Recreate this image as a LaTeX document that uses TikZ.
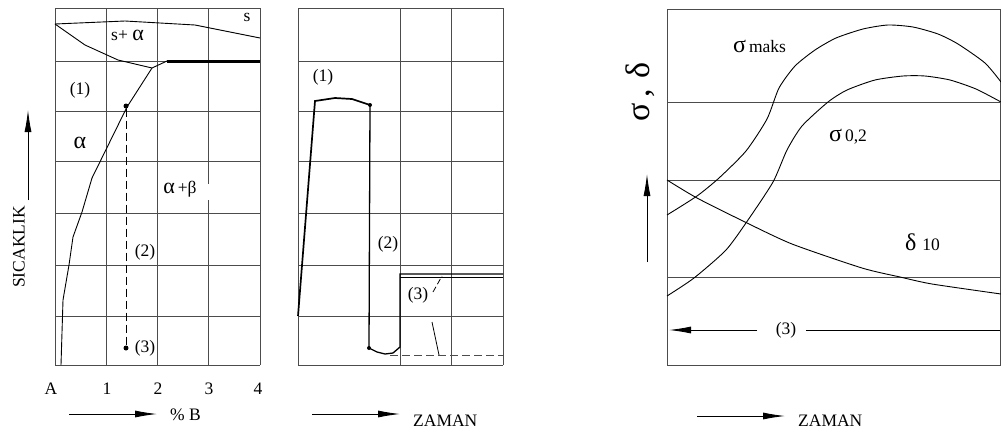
\documentclass[tikz,border=0pt]{standalone}
\usepackage{fontspec}
\setmainfont{Liberation Serif}
\usetikzlibrary{arrows.meta}
\begin{document}
\begin{tikzpicture}[x=1bp,y=-1bp,
  gridline/.style={line width=0.9bp, black!70},
  curve/.style={line width=0.9bp, black},
  heavy/.style={line width=1.7bp, black},
  dashline/.style={line width=0.9bp, black!70, dash pattern=on 8bp off 4bp},
  axarrow/.style={line width=0.9bp, black, -{Latex[length=22bp,width=7bp]}},
  lbl/.style={font=\fontsize{17.5bp}{20bp}\selectfont, inner sep=0pt},
  greek/.style={font=\fontsize{24bp}{26bp}\selectfont, inner sep=0pt},
  dot/.style={circle, fill=black, inner sep=0pt, minimum size=5bp}]
\useasboundingbox (0,0) rectangle (1001,430);

% ---------------- left chart ----------------
\foreach \x in {55,106,157,260} \draw[gridline] (\x,8) -- (\x,365);
\draw[gridline] (208,8) -- (208,184);
\draw[gridline] (208,200) -- (208,365);
\foreach \y in {8,61,111,161,213,265,316,365} \draw[gridline] (55,\y) -- (260,\y);
% liquidus / solidus / solvus
\draw[curve] (55,24) -- (125,21) -- (195,25) -- (260,38);
\draw[curve] (55,24) -- (85,45) -- (118,60) -- (152,68) -- (167,61);
\draw[line width=3bp] (167,61) -- (260,61);
\draw[curve] (152,68) -- (127,107) -- (92,178) -- (82,212) -- (73,237) -- (69,265) -- (63,300) -- (61,365);
\node[dot] (la) at (126,106) {};
\node[dot] (lb) at (126,348) {};
\draw[dashline, black] (la) -- (lb);
% labels
\node[lbl] (ls) at (247,17) {s};
\node[lbl, anchor=base west] (lsa) at (111,40) {s+ \fontsize{22bp}{22bp}\selectfont α};
\node[lbl] (l1) at (80,90) {(1)};
\node[greek] (lal) at (80,143) {α};
\node[lbl] (lab) at (180,189) {\fontsize{22bp}{22bp}\selectfont α\fontsize{17.5bp}{20bp}\selectfont\,+β};
\node[lbl] (l2) at (145,252) {(2)};
\node[lbl] (l3) at (145,348) {(3)};
\node[lbl] (tA) at (51,389) {A};
\node[lbl] (t1) at (107,389) {1};
\node[lbl] (t2) at (158,389) {2};
\node[lbl] (t3) at (209,389) {3};
\node[lbl] (t4) at (258,389) {4};
\node[lbl, anchor=base west] (pb) at (170,420) {\% B};
\coordinate (pbs) at (69,414);
\coordinate (pbe) at (157,414);
\draw[axarrow] (pbs) -- (pbe);
\node[lbl, rotate=90] (sic) at (19,247) {SICAKLIK};
\coordinate (sics) at (28,200);
\coordinate (sice) at (28,110);
\draw[axarrow] (sics) -- (sice);

% ---------------- middle chart ----------------
\foreach \x in {298,400,451,503} \draw[gridline] (\x,8) -- (\x,365);
\foreach \y in {8,61,111,161,213,265,316,365} \draw[gridline] (298,\y) -- (503,\y);
\node[dot, minimum size=4bp] (ma) at (370,105) {};
\node[dot, minimum size=4bp] (mb) at (369,348) {};
\draw[heavy] (298,316) -- (315,101) -- (335,98) -- (352,99) -- (ma.center);
\draw[line width=1.3bp] (ma.center) -- (mb.center);
\draw[line width=1.3bp] (mb.center) -- (377,352) -- (385,354) -- (393,353) -- (400,347) -- (400,274) -- (503,274);
\draw[line width=0.9bp] (400,277) -- (503,277);
\draw[dashline] (390,355) -- (503,355);
\node[lbl] (m1) at (323,77) {(1)};
\node[lbl] (m2) at (388,244) {(2)};
\node[lbl] (m3) at (418,295) {(3)};
\draw[line width=0.8bp, dash pattern=on 6bp off 3bp] (433,292) -- (442,276);
\draw[line width=0.8bp] (432,322) -- (439,355);
\node[lbl, anchor=base west] (mz) at (413,426) {ZAMAN};
\coordinate (mzs) at (312,414);
\coordinate (mze) at (400,414);
\draw[axarrow] (mzs) -- (mze);

% ---------------- right chart ----------------
\draw[gridline] (667,9) rectangle (1000.5,365);
\foreach \y in {102,180,277} \draw[gridline] (667,\y) -- (1000.5,\y);
\draw[curve] plot[smooth, tension=0.4] coordinates {(667,215) (697,196) (719,178) (746,151) (767,119) (779,88) (795,66) (815,50) (836,38) (863,29) (888,25) (913,27) (938,34) (958,44) (985,63) (1001,82)};
\draw[curve] plot[smooth, tension=0.4] coordinates {(667,296) (694,278) (726,250) (748,220) (773,182) (787,150) (802,126) (828,102) (847,90) (875,80) (903,76) (925,76) (950,80) (976,89) (1001,102)};
\draw[curve] plot[smooth, tension=0.4] coordinates {(667,180) (697,198) (745,222) (792,244) (862,268) (900,277) (932,284) (1001,294)};
\node[lbl, anchor=base west] (smax) at (733,52) {{\fontsize{24bp}{24bp}\selectfont σ}\,maks};
\node[lbl, anchor=base west] (s02) at (829,141) {{\fontsize{24bp}{24bp}\selectfont σ}\,0,2};
\node[lbl, anchor=base west] (d10) at (905,250) {{\fontsize{24bp}{24bp}\selectfont δ}\,\,10};
\node[rotate=90, font=\fontsize{34bp}{34bp}\selectfont, inner sep=0pt] (sd) at (640,92) {σ\,,\hspace{10bp}δ};
\coordinate (rys) at (647,262);
\coordinate (rye) at (647,174);
\draw[axarrow] (rys) -- (rye);
\node[lbl] (r3) at (786,330) {(3)};
\coordinate (r3a) at (757,330);
\coordinate (r3b) at (669,330);
\coordinate (r3c) at (806,330);
\coordinate (r3d) at (1000,330);
\draw[axarrow] (r3a) -- (r3b);
\draw[curve] (r3c) -- (r3d);
\node[lbl, anchor=base west] (rz) at (798,426) {ZAMAN};
\coordinate (rzs) at (697,416);
\coordinate (rze) at (785,416);
\draw[axarrow] (rzs) -- (rze);
\end{tikzpicture}
\end{document}
